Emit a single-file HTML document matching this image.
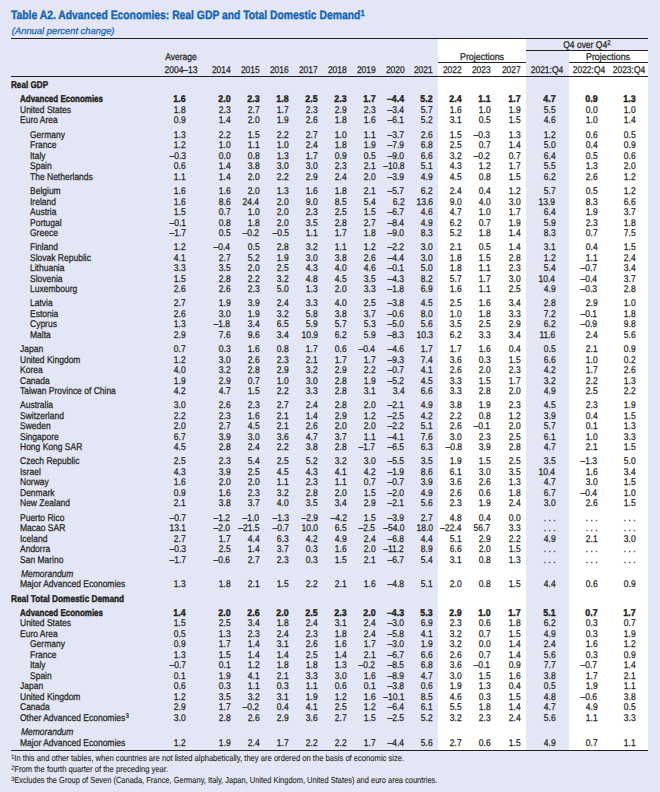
<!DOCTYPE html>
<html><head><meta charset="utf-8">
<style>
html,body{margin:0;padding:0}
body{width:660px;height:792px;position:relative;overflow:hidden;font-family:"Liberation Sans",sans-serif;text-rendering:geometricPrecision}
.l,.n,.t{position:absolute;white-space:nowrap;line-height:normal;-webkit-text-stroke:0.25px currentColor}
.l{transform-origin:0 0}
.n{transform-origin:100% 0}
.b{font-weight:bold;-webkit-text-stroke:0.4px currentColor}
.i{font-style:italic}
.ln{position:absolute;height:1px}
.band{position:absolute;background:#fff}
sup{font-size:0.72em;vertical-align:0;position:relative;top:-0.38em;margin-left:0.3px}
body{background:#e3e6f4} .l,.n{color:#231f20;font-size:9.8px} .ln{background:#231f20} .blue{color:#1565b5}
</style></head><body>
<div class="band" style="left:438px;top:39px;width:88px;height:711px"></div>
<div class="band" style="left:568.6px;top:51px;width:79.4px;height:699px"></div>
<div class="t blue b" style="left:11.3px;top:8px;font-size:12px;transform:scaleX(0.862);transform-origin:0 0">Table A2. Advanced Economies: Real GDP and Total Domestic Demand<sup>1</sup></div>
<div class="t blue i" style="left:11.8px;top:25px;font-size:9.4px">(Annual percent change)</div>
<div class="ln" style="left:11px;top:38px;width:637px"></div>
<div class="ln" style="left:526px;top:50px;width:122px"></div>
<div class="ln" style="left:438px;top:62px;width:88px"></div>
<div class="ln" style="left:568.6px;top:62px;width:79.4px"></div>
<div class="ln" style="left:11px;top:76px;width:637px"></div>
<div class="ln" style="left:11px;top:750px;width:637px"></div>
<div class="t" style="left:81.00px;top:52px;width:200px;text-align:center;font-size:9.8px;color:#231f20;transform:scaleX(0.867);transform-origin:50% 0">Average</div>
<div class="t" style="left:81.00px;top:65px;width:200px;text-align:center;font-size:9.8px;color:#231f20;transform:scaleX(0.867);transform-origin:50% 0">2004–13</div>
<div class="t" style="right:429.10px;top:65px;font-size:9.8px;color:#231f20;transform:scaleX(0.867);transform-origin:100% 0">2014</div>
<div class="t" style="right:400.40px;top:65px;font-size:9.8px;color:#231f20;transform:scaleX(0.867);transform-origin:100% 0">2015</div>
<div class="t" style="right:371.50px;top:65px;font-size:9.8px;color:#231f20;transform:scaleX(0.867);transform-origin:100% 0">2016</div>
<div class="t" style="right:342.00px;top:65px;font-size:9.8px;color:#231f20;transform:scaleX(0.867);transform-origin:100% 0">2017</div>
<div class="t" style="right:313.40px;top:65px;font-size:9.8px;color:#231f20;transform:scaleX(0.867);transform-origin:100% 0">2018</div>
<div class="t" style="right:284.70px;top:65px;font-size:9.8px;color:#231f20;transform:scaleX(0.867);transform-origin:100% 0">2019</div>
<div class="t" style="right:255.60px;top:65px;font-size:9.8px;color:#231f20;transform:scaleX(0.867);transform-origin:100% 0">2020</div>
<div class="t" style="right:227.70px;top:65px;font-size:9.8px;color:#231f20;transform:scaleX(0.867);transform-origin:100% 0">2021</div>
<div class="t" style="right:198.60px;top:65px;font-size:9.8px;color:#231f20;transform:scaleX(0.867);transform-origin:100% 0">2022</div>
<div class="t" style="right:169.10px;top:65px;font-size:9.8px;color:#231f20;transform:scaleX(0.867);transform-origin:100% 0">2023</div>
<div class="t" style="right:139.60px;top:65px;font-size:9.8px;color:#231f20;transform:scaleX(0.867);transform-origin:100% 0">2027</div>
<div class="t" style="left:447.10px;top:65px;width:200px;text-align:center;font-size:9.8px;color:#231f20;transform:scaleX(0.867);transform-origin:50% 0">2021:Q4</div>
<div class="t" style="left:489.35px;top:65px;width:200px;text-align:center;font-size:9.8px;color:#231f20;transform:scaleX(0.867);transform-origin:50% 0">2022:Q4</div>
<div class="t" style="left:529.05px;top:65px;width:200px;text-align:center;font-size:9.8px;color:#231f20;transform:scaleX(0.867);transform-origin:50% 0">2023:Q4</div>
<div class="t" style="left:381.80px;top:52px;width:200px;text-align:center;font-size:9.8px;color:#231f20;transform:scaleX(0.910);transform-origin:50% 0">Projections</div>
<div class="t" style="left:508.30px;top:52px;width:200px;text-align:center;font-size:9.8px;color:#231f20;transform:scaleX(0.910);transform-origin:50% 0">Projections</div>
<div class="t" style="left:486.90px;top:40px;width:200px;text-align:center;font-size:9.8px;color:#231f20;transform:scaleX(0.867);transform-origin:50% 0">Q4 over Q4<sup>2</sup></div>
<div class="l b" style="left:11.0px;top:80px;transform:scaleX(0.830)">Real GDP</div>
<div class="l b" style="left:20.3px;top:94px;transform:scaleX(0.815)">Advanced Economies</div>
<div class="n b" style="right:474.00px;top:94px;transform:scaleX(0.900)">1.6</div>
<div class="n b" style="right:429.60px;top:94px;transform:scaleX(0.900)">2.0</div>
<div class="n b" style="right:400.70px;top:94px;transform:scaleX(0.900)">2.3</div>
<div class="n b" style="right:371.40px;top:94px;transform:scaleX(0.900)">1.8</div>
<div class="n b" style="right:342.20px;top:94px;transform:scaleX(0.900)">2.5</div>
<div class="n b" style="right:313.40px;top:94px;transform:scaleX(0.900)">2.3</div>
<div class="n b" style="right:284.50px;top:94px;transform:scaleX(0.900)">1.7</div>
<div class="n b" style="right:255.80px;top:94px;transform:scaleX(0.900)">–4.4</div>
<div class="n b" style="right:227.40px;top:94px;transform:scaleX(0.900)">5.2</div>
<div class="n b" style="right:198.40px;top:94px;transform:scaleX(0.900)">2.4</div>
<div class="n b" style="right:169.60px;top:94px;transform:scaleX(0.900)">1.1</div>
<div class="n b" style="right:139.80px;top:94px;transform:scaleX(0.900)">1.7</div>
<div class="n b" style="right:104.50px;top:94px;transform:scaleX(0.900)">4.7</div>
<div class="n b" style="right:62.70px;top:94px;transform:scaleX(0.900)">0.9</div>
<div class="n b" style="right:24.40px;top:94px;transform:scaleX(0.900)">1.3</div>
<div class="l" style="left:20.0px;top:105px;transform:scaleX(0.867)">United States</div>
<div class="n" style="right:474.00px;top:105px;transform:scaleX(0.867)">1.8</div>
<div class="n" style="right:429.60px;top:105px;transform:scaleX(0.867)">2.3</div>
<div class="n" style="right:400.70px;top:105px;transform:scaleX(0.867)">2.7</div>
<div class="n" style="right:371.40px;top:105px;transform:scaleX(0.867)">1.7</div>
<div class="n" style="right:342.20px;top:105px;transform:scaleX(0.867)">2.3</div>
<div class="n" style="right:313.40px;top:105px;transform:scaleX(0.867)">2.9</div>
<div class="n" style="right:284.50px;top:105px;transform:scaleX(0.867)">2.3</div>
<div class="n" style="right:255.80px;top:105px;transform:scaleX(0.867)">–3.4</div>
<div class="n" style="right:227.40px;top:105px;transform:scaleX(0.867)">5.7</div>
<div class="n" style="right:198.40px;top:105px;transform:scaleX(0.867)">1.6</div>
<div class="n" style="right:169.60px;top:105px;transform:scaleX(0.867)">1.0</div>
<div class="n" style="right:139.80px;top:105px;transform:scaleX(0.867)">1.9</div>
<div class="n" style="right:104.50px;top:105px;transform:scaleX(0.867)">5.5</div>
<div class="n" style="right:62.70px;top:105px;transform:scaleX(0.867)">0.0</div>
<div class="n" style="right:24.40px;top:105px;transform:scaleX(0.867)">1.0</div>
<div class="l" style="left:20.0px;top:115px;transform:scaleX(0.867)">Euro Area</div>
<div class="n" style="right:474.00px;top:115px;transform:scaleX(0.867)">0.9</div>
<div class="n" style="right:429.60px;top:115px;transform:scaleX(0.867)">1.4</div>
<div class="n" style="right:400.70px;top:115px;transform:scaleX(0.867)">2.0</div>
<div class="n" style="right:371.40px;top:115px;transform:scaleX(0.867)">1.9</div>
<div class="n" style="right:342.20px;top:115px;transform:scaleX(0.867)">2.6</div>
<div class="n" style="right:313.40px;top:115px;transform:scaleX(0.867)">1.8</div>
<div class="n" style="right:284.50px;top:115px;transform:scaleX(0.867)">1.6</div>
<div class="n" style="right:255.80px;top:115px;transform:scaleX(0.867)">–6.1</div>
<div class="n" style="right:227.40px;top:115px;transform:scaleX(0.867)">5.2</div>
<div class="n" style="right:198.40px;top:115px;transform:scaleX(0.867)">3.1</div>
<div class="n" style="right:169.60px;top:115px;transform:scaleX(0.867)">0.5</div>
<div class="n" style="right:139.80px;top:115px;transform:scaleX(0.867)">1.5</div>
<div class="n" style="right:104.50px;top:115px;transform:scaleX(0.867)">4.6</div>
<div class="n" style="right:62.70px;top:115px;transform:scaleX(0.867)">1.0</div>
<div class="n" style="right:24.40px;top:115px;transform:scaleX(0.867)">1.4</div>
<div class="l" style="left:29.6px;top:130px;transform:scaleX(0.867)">Germany</div>
<div class="n" style="right:474.00px;top:130px;transform:scaleX(0.867)">1.3</div>
<div class="n" style="right:429.60px;top:130px;transform:scaleX(0.867)">2.2</div>
<div class="n" style="right:400.70px;top:130px;transform:scaleX(0.867)">1.5</div>
<div class="n" style="right:371.40px;top:130px;transform:scaleX(0.867)">2.2</div>
<div class="n" style="right:342.20px;top:130px;transform:scaleX(0.867)">2.7</div>
<div class="n" style="right:313.40px;top:130px;transform:scaleX(0.867)">1.0</div>
<div class="n" style="right:284.50px;top:130px;transform:scaleX(0.867)">1.1</div>
<div class="n" style="right:255.80px;top:130px;transform:scaleX(0.867)">–3.7</div>
<div class="n" style="right:227.40px;top:130px;transform:scaleX(0.867)">2.6</div>
<div class="n" style="right:198.40px;top:130px;transform:scaleX(0.867)">1.5</div>
<div class="n" style="right:169.60px;top:130px;transform:scaleX(0.867)">–0.3</div>
<div class="n" style="right:139.80px;top:130px;transform:scaleX(0.867)">1.3</div>
<div class="n" style="right:104.50px;top:130px;transform:scaleX(0.867)">1.2</div>
<div class="n" style="right:62.70px;top:130px;transform:scaleX(0.867)">0.6</div>
<div class="n" style="right:24.40px;top:130px;transform:scaleX(0.867)">0.5</div>
<div class="l" style="left:29.6px;top:140px;transform:scaleX(0.867)">France</div>
<div class="n" style="right:474.00px;top:140px;transform:scaleX(0.867)">1.2</div>
<div class="n" style="right:429.60px;top:140px;transform:scaleX(0.867)">1.0</div>
<div class="n" style="right:400.70px;top:140px;transform:scaleX(0.867)">1.1</div>
<div class="n" style="right:371.40px;top:140px;transform:scaleX(0.867)">1.0</div>
<div class="n" style="right:342.20px;top:140px;transform:scaleX(0.867)">2.4</div>
<div class="n" style="right:313.40px;top:140px;transform:scaleX(0.867)">1.8</div>
<div class="n" style="right:284.50px;top:140px;transform:scaleX(0.867)">1.9</div>
<div class="n" style="right:255.80px;top:140px;transform:scaleX(0.867)">–7.9</div>
<div class="n" style="right:227.40px;top:140px;transform:scaleX(0.867)">6.8</div>
<div class="n" style="right:198.40px;top:140px;transform:scaleX(0.867)">2.5</div>
<div class="n" style="right:169.60px;top:140px;transform:scaleX(0.867)">0.7</div>
<div class="n" style="right:139.80px;top:140px;transform:scaleX(0.867)">1.4</div>
<div class="n" style="right:104.50px;top:140px;transform:scaleX(0.867)">5.0</div>
<div class="n" style="right:62.70px;top:140px;transform:scaleX(0.867)">0.4</div>
<div class="n" style="right:24.40px;top:140px;transform:scaleX(0.867)">0.9</div>
<div class="l" style="left:29.6px;top:151px;transform:scaleX(0.867)">Italy</div>
<div class="n" style="right:474.00px;top:151px;transform:scaleX(0.867)">–0.3</div>
<div class="n" style="right:429.60px;top:151px;transform:scaleX(0.867)">0.0</div>
<div class="n" style="right:400.70px;top:151px;transform:scaleX(0.867)">0.8</div>
<div class="n" style="right:371.40px;top:151px;transform:scaleX(0.867)">1.3</div>
<div class="n" style="right:342.20px;top:151px;transform:scaleX(0.867)">1.7</div>
<div class="n" style="right:313.40px;top:151px;transform:scaleX(0.867)">0.9</div>
<div class="n" style="right:284.50px;top:151px;transform:scaleX(0.867)">0.5</div>
<div class="n" style="right:255.80px;top:151px;transform:scaleX(0.867)">–9.0</div>
<div class="n" style="right:227.40px;top:151px;transform:scaleX(0.867)">6.6</div>
<div class="n" style="right:198.40px;top:151px;transform:scaleX(0.867)">3.2</div>
<div class="n" style="right:169.60px;top:151px;transform:scaleX(0.867)">–0.2</div>
<div class="n" style="right:139.80px;top:151px;transform:scaleX(0.867)">0.7</div>
<div class="n" style="right:104.50px;top:151px;transform:scaleX(0.867)">6.4</div>
<div class="n" style="right:62.70px;top:151px;transform:scaleX(0.867)">0.5</div>
<div class="n" style="right:24.40px;top:151px;transform:scaleX(0.867)">0.6</div>
<div class="l" style="left:29.6px;top:161px;transform:scaleX(0.867)">Spain</div>
<div class="n" style="right:474.00px;top:161px;transform:scaleX(0.867)">0.6</div>
<div class="n" style="right:429.60px;top:161px;transform:scaleX(0.867)">1.4</div>
<div class="n" style="right:400.70px;top:161px;transform:scaleX(0.867)">3.8</div>
<div class="n" style="right:371.40px;top:161px;transform:scaleX(0.867)">3.0</div>
<div class="n" style="right:342.20px;top:161px;transform:scaleX(0.867)">3.0</div>
<div class="n" style="right:313.40px;top:161px;transform:scaleX(0.867)">2.3</div>
<div class="n" style="right:284.50px;top:161px;transform:scaleX(0.867)">2.1</div>
<div class="n" style="right:255.80px;top:161px;transform:scaleX(0.867)">–10.8</div>
<div class="n" style="right:227.40px;top:161px;transform:scaleX(0.867)">5.1</div>
<div class="n" style="right:198.40px;top:161px;transform:scaleX(0.867)">4.3</div>
<div class="n" style="right:169.60px;top:161px;transform:scaleX(0.867)">1.2</div>
<div class="n" style="right:139.80px;top:161px;transform:scaleX(0.867)">1.7</div>
<div class="n" style="right:104.50px;top:161px;transform:scaleX(0.867)">5.5</div>
<div class="n" style="right:62.70px;top:161px;transform:scaleX(0.867)">1.3</div>
<div class="n" style="right:24.40px;top:161px;transform:scaleX(0.867)">2.0</div>
<div class="l" style="left:29.6px;top:172px;transform:scaleX(0.867)">The Netherlands</div>
<div class="n" style="right:474.00px;top:172px;transform:scaleX(0.867)">1.1</div>
<div class="n" style="right:429.60px;top:172px;transform:scaleX(0.867)">1.4</div>
<div class="n" style="right:400.70px;top:172px;transform:scaleX(0.867)">2.0</div>
<div class="n" style="right:371.40px;top:172px;transform:scaleX(0.867)">2.2</div>
<div class="n" style="right:342.20px;top:172px;transform:scaleX(0.867)">2.9</div>
<div class="n" style="right:313.40px;top:172px;transform:scaleX(0.867)">2.4</div>
<div class="n" style="right:284.50px;top:172px;transform:scaleX(0.867)">2.0</div>
<div class="n" style="right:255.80px;top:172px;transform:scaleX(0.867)">–3.9</div>
<div class="n" style="right:227.40px;top:172px;transform:scaleX(0.867)">4.9</div>
<div class="n" style="right:198.40px;top:172px;transform:scaleX(0.867)">4.5</div>
<div class="n" style="right:169.60px;top:172px;transform:scaleX(0.867)">0.8</div>
<div class="n" style="right:139.80px;top:172px;transform:scaleX(0.867)">1.5</div>
<div class="n" style="right:104.50px;top:172px;transform:scaleX(0.867)">6.2</div>
<div class="n" style="right:62.70px;top:172px;transform:scaleX(0.867)">2.6</div>
<div class="n" style="right:24.40px;top:172px;transform:scaleX(0.867)">1.2</div>
<div class="l" style="left:29.6px;top:186px;transform:scaleX(0.867)">Belgium</div>
<div class="n" style="right:474.00px;top:186px;transform:scaleX(0.867)">1.6</div>
<div class="n" style="right:429.60px;top:186px;transform:scaleX(0.867)">1.6</div>
<div class="n" style="right:400.70px;top:186px;transform:scaleX(0.867)">2.0</div>
<div class="n" style="right:371.40px;top:186px;transform:scaleX(0.867)">1.3</div>
<div class="n" style="right:342.20px;top:186px;transform:scaleX(0.867)">1.6</div>
<div class="n" style="right:313.40px;top:186px;transform:scaleX(0.867)">1.8</div>
<div class="n" style="right:284.50px;top:186px;transform:scaleX(0.867)">2.1</div>
<div class="n" style="right:255.80px;top:186px;transform:scaleX(0.867)">–5.7</div>
<div class="n" style="right:227.40px;top:186px;transform:scaleX(0.867)">6.2</div>
<div class="n" style="right:198.40px;top:186px;transform:scaleX(0.867)">2.4</div>
<div class="n" style="right:169.60px;top:186px;transform:scaleX(0.867)">0.4</div>
<div class="n" style="right:139.80px;top:186px;transform:scaleX(0.867)">1.2</div>
<div class="n" style="right:104.50px;top:186px;transform:scaleX(0.867)">5.7</div>
<div class="n" style="right:62.70px;top:186px;transform:scaleX(0.867)">0.5</div>
<div class="n" style="right:24.40px;top:186px;transform:scaleX(0.867)">1.2</div>
<div class="l" style="left:29.6px;top:197px;transform:scaleX(0.867)">Ireland</div>
<div class="n" style="right:474.00px;top:197px;transform:scaleX(0.867)">1.6</div>
<div class="n" style="right:429.60px;top:197px;transform:scaleX(0.867)">8.6</div>
<div class="n" style="right:400.70px;top:197px;transform:scaleX(0.867)">24.4</div>
<div class="n" style="right:371.40px;top:197px;transform:scaleX(0.867)">2.0</div>
<div class="n" style="right:342.20px;top:197px;transform:scaleX(0.867)">9.0</div>
<div class="n" style="right:313.40px;top:197px;transform:scaleX(0.867)">8.5</div>
<div class="n" style="right:284.50px;top:197px;transform:scaleX(0.867)">5.4</div>
<div class="n" style="right:255.80px;top:197px;transform:scaleX(0.867)">6.2</div>
<div class="n" style="right:227.40px;top:197px;transform:scaleX(0.867)">13.6</div>
<div class="n" style="right:198.40px;top:197px;transform:scaleX(0.867)">9.0</div>
<div class="n" style="right:169.60px;top:197px;transform:scaleX(0.867)">4.0</div>
<div class="n" style="right:139.80px;top:197px;transform:scaleX(0.867)">3.0</div>
<div class="n" style="right:104.50px;top:197px;transform:scaleX(0.867)">13.9</div>
<div class="n" style="right:62.70px;top:197px;transform:scaleX(0.867)">8.3</div>
<div class="n" style="right:24.40px;top:197px;transform:scaleX(0.867)">6.6</div>
<div class="l" style="left:29.6px;top:207px;transform:scaleX(0.867)">Austria</div>
<div class="n" style="right:474.00px;top:207px;transform:scaleX(0.867)">1.5</div>
<div class="n" style="right:429.60px;top:207px;transform:scaleX(0.867)">0.7</div>
<div class="n" style="right:400.70px;top:207px;transform:scaleX(0.867)">1.0</div>
<div class="n" style="right:371.40px;top:207px;transform:scaleX(0.867)">2.0</div>
<div class="n" style="right:342.20px;top:207px;transform:scaleX(0.867)">2.3</div>
<div class="n" style="right:313.40px;top:207px;transform:scaleX(0.867)">2.5</div>
<div class="n" style="right:284.50px;top:207px;transform:scaleX(0.867)">1.5</div>
<div class="n" style="right:255.80px;top:207px;transform:scaleX(0.867)">–6.7</div>
<div class="n" style="right:227.40px;top:207px;transform:scaleX(0.867)">4.6</div>
<div class="n" style="right:198.40px;top:207px;transform:scaleX(0.867)">4.7</div>
<div class="n" style="right:169.60px;top:207px;transform:scaleX(0.867)">1.0</div>
<div class="n" style="right:139.80px;top:207px;transform:scaleX(0.867)">1.7</div>
<div class="n" style="right:104.50px;top:207px;transform:scaleX(0.867)">6.4</div>
<div class="n" style="right:62.70px;top:207px;transform:scaleX(0.867)">1.9</div>
<div class="n" style="right:24.40px;top:207px;transform:scaleX(0.867)">3.7</div>
<div class="l" style="left:29.6px;top:218px;transform:scaleX(0.867)">Portugal</div>
<div class="n" style="right:474.00px;top:218px;transform:scaleX(0.867)">–0.1</div>
<div class="n" style="right:429.60px;top:218px;transform:scaleX(0.867)">0.8</div>
<div class="n" style="right:400.70px;top:218px;transform:scaleX(0.867)">1.8</div>
<div class="n" style="right:371.40px;top:218px;transform:scaleX(0.867)">2.0</div>
<div class="n" style="right:342.20px;top:218px;transform:scaleX(0.867)">3.5</div>
<div class="n" style="right:313.40px;top:218px;transform:scaleX(0.867)">2.8</div>
<div class="n" style="right:284.50px;top:218px;transform:scaleX(0.867)">2.7</div>
<div class="n" style="right:255.80px;top:218px;transform:scaleX(0.867)">–8.4</div>
<div class="n" style="right:227.40px;top:218px;transform:scaleX(0.867)">4.9</div>
<div class="n" style="right:198.40px;top:218px;transform:scaleX(0.867)">6.2</div>
<div class="n" style="right:169.60px;top:218px;transform:scaleX(0.867)">0.7</div>
<div class="n" style="right:139.80px;top:218px;transform:scaleX(0.867)">1.9</div>
<div class="n" style="right:104.50px;top:218px;transform:scaleX(0.867)">5.9</div>
<div class="n" style="right:62.70px;top:218px;transform:scaleX(0.867)">2.3</div>
<div class="n" style="right:24.40px;top:218px;transform:scaleX(0.867)">1.8</div>
<div class="l" style="left:29.6px;top:228px;transform:scaleX(0.867)">Greece</div>
<div class="n" style="right:474.00px;top:228px;transform:scaleX(0.867)">–1.7</div>
<div class="n" style="right:429.60px;top:228px;transform:scaleX(0.867)">0.5</div>
<div class="n" style="right:400.70px;top:228px;transform:scaleX(0.867)">–0.2</div>
<div class="n" style="right:371.40px;top:228px;transform:scaleX(0.867)">–0.5</div>
<div class="n" style="right:342.20px;top:228px;transform:scaleX(0.867)">1.1</div>
<div class="n" style="right:313.40px;top:228px;transform:scaleX(0.867)">1.7</div>
<div class="n" style="right:284.50px;top:228px;transform:scaleX(0.867)">1.8</div>
<div class="n" style="right:255.80px;top:228px;transform:scaleX(0.867)">–9.0</div>
<div class="n" style="right:227.40px;top:228px;transform:scaleX(0.867)">8.3</div>
<div class="n" style="right:198.40px;top:228px;transform:scaleX(0.867)">5.2</div>
<div class="n" style="right:169.60px;top:228px;transform:scaleX(0.867)">1.8</div>
<div class="n" style="right:139.80px;top:228px;transform:scaleX(0.867)">1.4</div>
<div class="n" style="right:104.50px;top:228px;transform:scaleX(0.867)">8.3</div>
<div class="n" style="right:62.70px;top:228px;transform:scaleX(0.867)">0.7</div>
<div class="n" style="right:24.40px;top:228px;transform:scaleX(0.867)">7.5</div>
<div class="l" style="left:29.6px;top:242px;transform:scaleX(0.867)">Finland</div>
<div class="n" style="right:474.00px;top:242px;transform:scaleX(0.867)">1.2</div>
<div class="n" style="right:429.60px;top:242px;transform:scaleX(0.867)">–0.4</div>
<div class="n" style="right:400.70px;top:242px;transform:scaleX(0.867)">0.5</div>
<div class="n" style="right:371.40px;top:242px;transform:scaleX(0.867)">2.8</div>
<div class="n" style="right:342.20px;top:242px;transform:scaleX(0.867)">3.2</div>
<div class="n" style="right:313.40px;top:242px;transform:scaleX(0.867)">1.1</div>
<div class="n" style="right:284.50px;top:242px;transform:scaleX(0.867)">1.2</div>
<div class="n" style="right:255.80px;top:242px;transform:scaleX(0.867)">–2.2</div>
<div class="n" style="right:227.40px;top:242px;transform:scaleX(0.867)">3.0</div>
<div class="n" style="right:198.40px;top:242px;transform:scaleX(0.867)">2.1</div>
<div class="n" style="right:169.60px;top:242px;transform:scaleX(0.867)">0.5</div>
<div class="n" style="right:139.80px;top:242px;transform:scaleX(0.867)">1.4</div>
<div class="n" style="right:104.50px;top:242px;transform:scaleX(0.867)">3.1</div>
<div class="n" style="right:62.70px;top:242px;transform:scaleX(0.867)">0.4</div>
<div class="n" style="right:24.40px;top:242px;transform:scaleX(0.867)">1.5</div>
<div class="l" style="left:29.6px;top:253px;transform:scaleX(0.867)">Slovak Republic</div>
<div class="n" style="right:474.00px;top:253px;transform:scaleX(0.867)">4.1</div>
<div class="n" style="right:429.60px;top:253px;transform:scaleX(0.867)">2.7</div>
<div class="n" style="right:400.70px;top:253px;transform:scaleX(0.867)">5.2</div>
<div class="n" style="right:371.40px;top:253px;transform:scaleX(0.867)">1.9</div>
<div class="n" style="right:342.20px;top:253px;transform:scaleX(0.867)">3.0</div>
<div class="n" style="right:313.40px;top:253px;transform:scaleX(0.867)">3.8</div>
<div class="n" style="right:284.50px;top:253px;transform:scaleX(0.867)">2.6</div>
<div class="n" style="right:255.80px;top:253px;transform:scaleX(0.867)">–4.4</div>
<div class="n" style="right:227.40px;top:253px;transform:scaleX(0.867)">3.0</div>
<div class="n" style="right:198.40px;top:253px;transform:scaleX(0.867)">1.8</div>
<div class="n" style="right:169.60px;top:253px;transform:scaleX(0.867)">1.5</div>
<div class="n" style="right:139.80px;top:253px;transform:scaleX(0.867)">2.8</div>
<div class="n" style="right:104.50px;top:253px;transform:scaleX(0.867)">1.2</div>
<div class="n" style="right:62.70px;top:253px;transform:scaleX(0.867)">1.1</div>
<div class="n" style="right:24.40px;top:253px;transform:scaleX(0.867)">2.4</div>
<div class="l" style="left:29.6px;top:263px;transform:scaleX(0.867)">Lithuania</div>
<div class="n" style="right:474.00px;top:263px;transform:scaleX(0.867)">3.3</div>
<div class="n" style="right:429.60px;top:263px;transform:scaleX(0.867)">3.5</div>
<div class="n" style="right:400.70px;top:263px;transform:scaleX(0.867)">2.0</div>
<div class="n" style="right:371.40px;top:263px;transform:scaleX(0.867)">2.5</div>
<div class="n" style="right:342.20px;top:263px;transform:scaleX(0.867)">4.3</div>
<div class="n" style="right:313.40px;top:263px;transform:scaleX(0.867)">4.0</div>
<div class="n" style="right:284.50px;top:263px;transform:scaleX(0.867)">4.6</div>
<div class="n" style="right:255.80px;top:263px;transform:scaleX(0.867)">–0.1</div>
<div class="n" style="right:227.40px;top:263px;transform:scaleX(0.867)">5.0</div>
<div class="n" style="right:198.40px;top:263px;transform:scaleX(0.867)">1.8</div>
<div class="n" style="right:169.60px;top:263px;transform:scaleX(0.867)">1.1</div>
<div class="n" style="right:139.80px;top:263px;transform:scaleX(0.867)">2.3</div>
<div class="n" style="right:104.50px;top:263px;transform:scaleX(0.867)">5.4</div>
<div class="n" style="right:62.70px;top:263px;transform:scaleX(0.867)">–0.7</div>
<div class="n" style="right:24.40px;top:263px;transform:scaleX(0.867)">3.4</div>
<div class="l" style="left:29.6px;top:274px;transform:scaleX(0.867)">Slovenia</div>
<div class="n" style="right:474.00px;top:274px;transform:scaleX(0.867)">1.5</div>
<div class="n" style="right:429.60px;top:274px;transform:scaleX(0.867)">2.8</div>
<div class="n" style="right:400.70px;top:274px;transform:scaleX(0.867)">2.2</div>
<div class="n" style="right:371.40px;top:274px;transform:scaleX(0.867)">3.2</div>
<div class="n" style="right:342.20px;top:274px;transform:scaleX(0.867)">4.8</div>
<div class="n" style="right:313.40px;top:274px;transform:scaleX(0.867)">4.5</div>
<div class="n" style="right:284.50px;top:274px;transform:scaleX(0.867)">3.5</div>
<div class="n" style="right:255.80px;top:274px;transform:scaleX(0.867)">–4.3</div>
<div class="n" style="right:227.40px;top:274px;transform:scaleX(0.867)">8.2</div>
<div class="n" style="right:198.40px;top:274px;transform:scaleX(0.867)">5.7</div>
<div class="n" style="right:169.60px;top:274px;transform:scaleX(0.867)">1.7</div>
<div class="n" style="right:139.80px;top:274px;transform:scaleX(0.867)">3.0</div>
<div class="n" style="right:104.50px;top:274px;transform:scaleX(0.867)">10.4</div>
<div class="n" style="right:62.70px;top:274px;transform:scaleX(0.867)">–0.4</div>
<div class="n" style="right:24.40px;top:274px;transform:scaleX(0.867)">3.7</div>
<div class="l" style="left:29.6px;top:284px;transform:scaleX(0.867)">Luxembourg</div>
<div class="n" style="right:474.00px;top:284px;transform:scaleX(0.867)">2.6</div>
<div class="n" style="right:429.60px;top:284px;transform:scaleX(0.867)">2.6</div>
<div class="n" style="right:400.70px;top:284px;transform:scaleX(0.867)">2.3</div>
<div class="n" style="right:371.40px;top:284px;transform:scaleX(0.867)">5.0</div>
<div class="n" style="right:342.20px;top:284px;transform:scaleX(0.867)">1.3</div>
<div class="n" style="right:313.40px;top:284px;transform:scaleX(0.867)">2.0</div>
<div class="n" style="right:284.50px;top:284px;transform:scaleX(0.867)">3.3</div>
<div class="n" style="right:255.80px;top:284px;transform:scaleX(0.867)">–1.8</div>
<div class="n" style="right:227.40px;top:284px;transform:scaleX(0.867)">6.9</div>
<div class="n" style="right:198.40px;top:284px;transform:scaleX(0.867)">1.6</div>
<div class="n" style="right:169.60px;top:284px;transform:scaleX(0.867)">1.1</div>
<div class="n" style="right:139.80px;top:284px;transform:scaleX(0.867)">2.5</div>
<div class="n" style="right:104.50px;top:284px;transform:scaleX(0.867)">4.9</div>
<div class="n" style="right:62.70px;top:284px;transform:scaleX(0.867)">–0.3</div>
<div class="n" style="right:24.40px;top:284px;transform:scaleX(0.867)">2.8</div>
<div class="l" style="left:29.6px;top:298px;transform:scaleX(0.867)">Latvia</div>
<div class="n" style="right:474.00px;top:298px;transform:scaleX(0.867)">2.7</div>
<div class="n" style="right:429.60px;top:298px;transform:scaleX(0.867)">1.9</div>
<div class="n" style="right:400.70px;top:298px;transform:scaleX(0.867)">3.9</div>
<div class="n" style="right:371.40px;top:298px;transform:scaleX(0.867)">2.4</div>
<div class="n" style="right:342.20px;top:298px;transform:scaleX(0.867)">3.3</div>
<div class="n" style="right:313.40px;top:298px;transform:scaleX(0.867)">4.0</div>
<div class="n" style="right:284.50px;top:298px;transform:scaleX(0.867)">2.5</div>
<div class="n" style="right:255.80px;top:298px;transform:scaleX(0.867)">–3.8</div>
<div class="n" style="right:227.40px;top:298px;transform:scaleX(0.867)">4.5</div>
<div class="n" style="right:198.40px;top:298px;transform:scaleX(0.867)">2.5</div>
<div class="n" style="right:169.60px;top:298px;transform:scaleX(0.867)">1.6</div>
<div class="n" style="right:139.80px;top:298px;transform:scaleX(0.867)">3.4</div>
<div class="n" style="right:104.50px;top:298px;transform:scaleX(0.867)">2.8</div>
<div class="n" style="right:62.70px;top:298px;transform:scaleX(0.867)">2.9</div>
<div class="n" style="right:24.40px;top:298px;transform:scaleX(0.867)">1.0</div>
<div class="l" style="left:29.6px;top:309px;transform:scaleX(0.867)">Estonia</div>
<div class="n" style="right:474.00px;top:309px;transform:scaleX(0.867)">2.6</div>
<div class="n" style="right:429.60px;top:309px;transform:scaleX(0.867)">3.0</div>
<div class="n" style="right:400.70px;top:309px;transform:scaleX(0.867)">1.9</div>
<div class="n" style="right:371.40px;top:309px;transform:scaleX(0.867)">3.2</div>
<div class="n" style="right:342.20px;top:309px;transform:scaleX(0.867)">5.8</div>
<div class="n" style="right:313.40px;top:309px;transform:scaleX(0.867)">3.8</div>
<div class="n" style="right:284.50px;top:309px;transform:scaleX(0.867)">3.7</div>
<div class="n" style="right:255.80px;top:309px;transform:scaleX(0.867)">–0.6</div>
<div class="n" style="right:227.40px;top:309px;transform:scaleX(0.867)">8.0</div>
<div class="n" style="right:198.40px;top:309px;transform:scaleX(0.867)">1.0</div>
<div class="n" style="right:169.60px;top:309px;transform:scaleX(0.867)">1.8</div>
<div class="n" style="right:139.80px;top:309px;transform:scaleX(0.867)">3.3</div>
<div class="n" style="right:104.50px;top:309px;transform:scaleX(0.867)">7.2</div>
<div class="n" style="right:62.70px;top:309px;transform:scaleX(0.867)">–0.1</div>
<div class="n" style="right:24.40px;top:309px;transform:scaleX(0.867)">1.8</div>
<div class="l" style="left:29.6px;top:319px;transform:scaleX(0.867)">Cyprus</div>
<div class="n" style="right:474.00px;top:319px;transform:scaleX(0.867)">1.3</div>
<div class="n" style="right:429.60px;top:319px;transform:scaleX(0.867)">–1.8</div>
<div class="n" style="right:400.70px;top:319px;transform:scaleX(0.867)">3.4</div>
<div class="n" style="right:371.40px;top:319px;transform:scaleX(0.867)">6.5</div>
<div class="n" style="right:342.20px;top:319px;transform:scaleX(0.867)">5.9</div>
<div class="n" style="right:313.40px;top:319px;transform:scaleX(0.867)">5.7</div>
<div class="n" style="right:284.50px;top:319px;transform:scaleX(0.867)">5.3</div>
<div class="n" style="right:255.80px;top:319px;transform:scaleX(0.867)">–5.0</div>
<div class="n" style="right:227.40px;top:319px;transform:scaleX(0.867)">5.6</div>
<div class="n" style="right:198.40px;top:319px;transform:scaleX(0.867)">3.5</div>
<div class="n" style="right:169.60px;top:319px;transform:scaleX(0.867)">2.5</div>
<div class="n" style="right:139.80px;top:319px;transform:scaleX(0.867)">2.9</div>
<div class="n" style="right:104.50px;top:319px;transform:scaleX(0.867)">6.2</div>
<div class="n" style="right:62.70px;top:319px;transform:scaleX(0.867)">–0.9</div>
<div class="n" style="right:24.40px;top:319px;transform:scaleX(0.867)">9.8</div>
<div class="l" style="left:29.6px;top:330px;transform:scaleX(0.867)">Malta</div>
<div class="n" style="right:474.00px;top:330px;transform:scaleX(0.867)">2.9</div>
<div class="n" style="right:429.60px;top:330px;transform:scaleX(0.867)">7.6</div>
<div class="n" style="right:400.70px;top:330px;transform:scaleX(0.867)">9.6</div>
<div class="n" style="right:371.40px;top:330px;transform:scaleX(0.867)">3.4</div>
<div class="n" style="right:342.20px;top:330px;transform:scaleX(0.867)">10.9</div>
<div class="n" style="right:313.40px;top:330px;transform:scaleX(0.867)">6.2</div>
<div class="n" style="right:284.50px;top:330px;transform:scaleX(0.867)">5.9</div>
<div class="n" style="right:255.80px;top:330px;transform:scaleX(0.867)">–8.3</div>
<div class="n" style="right:227.40px;top:330px;transform:scaleX(0.867)">10.3</div>
<div class="n" style="right:198.40px;top:330px;transform:scaleX(0.867)">6.2</div>
<div class="n" style="right:169.60px;top:330px;transform:scaleX(0.867)">3.3</div>
<div class="n" style="right:139.80px;top:330px;transform:scaleX(0.867)">3.4</div>
<div class="n" style="right:104.50px;top:330px;transform:scaleX(0.867)">11.6</div>
<div class="n" style="right:62.70px;top:330px;transform:scaleX(0.867)">2.4</div>
<div class="n" style="right:24.40px;top:330px;transform:scaleX(0.867)">5.6</div>
<div class="l" style="left:20.0px;top:344px;transform:scaleX(0.867)">Japan</div>
<div class="n" style="right:474.00px;top:344px;transform:scaleX(0.867)">0.7</div>
<div class="n" style="right:429.60px;top:344px;transform:scaleX(0.867)">0.3</div>
<div class="n" style="right:400.70px;top:344px;transform:scaleX(0.867)">1.6</div>
<div class="n" style="right:371.40px;top:344px;transform:scaleX(0.867)">0.8</div>
<div class="n" style="right:342.20px;top:344px;transform:scaleX(0.867)">1.7</div>
<div class="n" style="right:313.40px;top:344px;transform:scaleX(0.867)">0.6</div>
<div class="n" style="right:284.50px;top:344px;transform:scaleX(0.867)">–0.4</div>
<div class="n" style="right:255.80px;top:344px;transform:scaleX(0.867)">–4.6</div>
<div class="n" style="right:227.40px;top:344px;transform:scaleX(0.867)">1.7</div>
<div class="n" style="right:198.40px;top:344px;transform:scaleX(0.867)">1.7</div>
<div class="n" style="right:169.60px;top:344px;transform:scaleX(0.867)">1.6</div>
<div class="n" style="right:139.80px;top:344px;transform:scaleX(0.867)">0.4</div>
<div class="n" style="right:104.50px;top:344px;transform:scaleX(0.867)">0.5</div>
<div class="n" style="right:62.70px;top:344px;transform:scaleX(0.867)">2.1</div>
<div class="n" style="right:24.40px;top:344px;transform:scaleX(0.867)">0.9</div>
<div class="l" style="left:20.0px;top:355px;transform:scaleX(0.867)">United Kingdom</div>
<div class="n" style="right:474.00px;top:355px;transform:scaleX(0.867)">1.2</div>
<div class="n" style="right:429.60px;top:355px;transform:scaleX(0.867)">3.0</div>
<div class="n" style="right:400.70px;top:355px;transform:scaleX(0.867)">2.6</div>
<div class="n" style="right:371.40px;top:355px;transform:scaleX(0.867)">2.3</div>
<div class="n" style="right:342.20px;top:355px;transform:scaleX(0.867)">2.1</div>
<div class="n" style="right:313.40px;top:355px;transform:scaleX(0.867)">1.7</div>
<div class="n" style="right:284.50px;top:355px;transform:scaleX(0.867)">1.7</div>
<div class="n" style="right:255.80px;top:355px;transform:scaleX(0.867)">–9.3</div>
<div class="n" style="right:227.40px;top:355px;transform:scaleX(0.867)">7.4</div>
<div class="n" style="right:198.40px;top:355px;transform:scaleX(0.867)">3.6</div>
<div class="n" style="right:169.60px;top:355px;transform:scaleX(0.867)">0.3</div>
<div class="n" style="right:139.80px;top:355px;transform:scaleX(0.867)">1.5</div>
<div class="n" style="right:104.50px;top:355px;transform:scaleX(0.867)">6.6</div>
<div class="n" style="right:62.70px;top:355px;transform:scaleX(0.867)">1.0</div>
<div class="n" style="right:24.40px;top:355px;transform:scaleX(0.867)">0.2</div>
<div class="l" style="left:20.0px;top:365px;transform:scaleX(0.867)">Korea</div>
<div class="n" style="right:474.00px;top:365px;transform:scaleX(0.867)">4.0</div>
<div class="n" style="right:429.60px;top:365px;transform:scaleX(0.867)">3.2</div>
<div class="n" style="right:400.70px;top:365px;transform:scaleX(0.867)">2.8</div>
<div class="n" style="right:371.40px;top:365px;transform:scaleX(0.867)">2.9</div>
<div class="n" style="right:342.20px;top:365px;transform:scaleX(0.867)">3.2</div>
<div class="n" style="right:313.40px;top:365px;transform:scaleX(0.867)">2.9</div>
<div class="n" style="right:284.50px;top:365px;transform:scaleX(0.867)">2.2</div>
<div class="n" style="right:255.80px;top:365px;transform:scaleX(0.867)">–0.7</div>
<div class="n" style="right:227.40px;top:365px;transform:scaleX(0.867)">4.1</div>
<div class="n" style="right:198.40px;top:365px;transform:scaleX(0.867)">2.6</div>
<div class="n" style="right:169.60px;top:365px;transform:scaleX(0.867)">2.0</div>
<div class="n" style="right:139.80px;top:365px;transform:scaleX(0.867)">2.3</div>
<div class="n" style="right:104.50px;top:365px;transform:scaleX(0.867)">4.2</div>
<div class="n" style="right:62.70px;top:365px;transform:scaleX(0.867)">1.7</div>
<div class="n" style="right:24.40px;top:365px;transform:scaleX(0.867)">2.6</div>
<div class="l" style="left:20.0px;top:376px;transform:scaleX(0.867)">Canada</div>
<div class="n" style="right:474.00px;top:376px;transform:scaleX(0.867)">1.9</div>
<div class="n" style="right:429.60px;top:376px;transform:scaleX(0.867)">2.9</div>
<div class="n" style="right:400.70px;top:376px;transform:scaleX(0.867)">0.7</div>
<div class="n" style="right:371.40px;top:376px;transform:scaleX(0.867)">1.0</div>
<div class="n" style="right:342.20px;top:376px;transform:scaleX(0.867)">3.0</div>
<div class="n" style="right:313.40px;top:376px;transform:scaleX(0.867)">2.8</div>
<div class="n" style="right:284.50px;top:376px;transform:scaleX(0.867)">1.9</div>
<div class="n" style="right:255.80px;top:376px;transform:scaleX(0.867)">–5.2</div>
<div class="n" style="right:227.40px;top:376px;transform:scaleX(0.867)">4.5</div>
<div class="n" style="right:198.40px;top:376px;transform:scaleX(0.867)">3.3</div>
<div class="n" style="right:169.60px;top:376px;transform:scaleX(0.867)">1.5</div>
<div class="n" style="right:139.80px;top:376px;transform:scaleX(0.867)">1.7</div>
<div class="n" style="right:104.50px;top:376px;transform:scaleX(0.867)">3.2</div>
<div class="n" style="right:62.70px;top:376px;transform:scaleX(0.867)">2.2</div>
<div class="n" style="right:24.40px;top:376px;transform:scaleX(0.867)">1.3</div>
<div class="l" style="left:20.0px;top:386px;transform:scaleX(0.867)">Taiwan Province of China</div>
<div class="n" style="right:474.00px;top:386px;transform:scaleX(0.867)">4.2</div>
<div class="n" style="right:429.60px;top:386px;transform:scaleX(0.867)">4.7</div>
<div class="n" style="right:400.70px;top:386px;transform:scaleX(0.867)">1.5</div>
<div class="n" style="right:371.40px;top:386px;transform:scaleX(0.867)">2.2</div>
<div class="n" style="right:342.20px;top:386px;transform:scaleX(0.867)">3.3</div>
<div class="n" style="right:313.40px;top:386px;transform:scaleX(0.867)">2.8</div>
<div class="n" style="right:284.50px;top:386px;transform:scaleX(0.867)">3.1</div>
<div class="n" style="right:255.80px;top:386px;transform:scaleX(0.867)">3.4</div>
<div class="n" style="right:227.40px;top:386px;transform:scaleX(0.867)">6.6</div>
<div class="n" style="right:198.40px;top:386px;transform:scaleX(0.867)">3.3</div>
<div class="n" style="right:169.60px;top:386px;transform:scaleX(0.867)">2.8</div>
<div class="n" style="right:139.80px;top:386px;transform:scaleX(0.867)">2.0</div>
<div class="n" style="right:104.50px;top:386px;transform:scaleX(0.867)">4.9</div>
<div class="n" style="right:62.70px;top:386px;transform:scaleX(0.867)">2.5</div>
<div class="n" style="right:24.40px;top:386px;transform:scaleX(0.867)">2.2</div>
<div class="l" style="left:20.0px;top:400px;transform:scaleX(0.867)">Australia</div>
<div class="n" style="right:474.00px;top:400px;transform:scaleX(0.867)">3.0</div>
<div class="n" style="right:429.60px;top:400px;transform:scaleX(0.867)">2.6</div>
<div class="n" style="right:400.70px;top:400px;transform:scaleX(0.867)">2.3</div>
<div class="n" style="right:371.40px;top:400px;transform:scaleX(0.867)">2.7</div>
<div class="n" style="right:342.20px;top:400px;transform:scaleX(0.867)">2.4</div>
<div class="n" style="right:313.40px;top:400px;transform:scaleX(0.867)">2.8</div>
<div class="n" style="right:284.50px;top:400px;transform:scaleX(0.867)">2.0</div>
<div class="n" style="right:255.80px;top:400px;transform:scaleX(0.867)">–2.1</div>
<div class="n" style="right:227.40px;top:400px;transform:scaleX(0.867)">4.9</div>
<div class="n" style="right:198.40px;top:400px;transform:scaleX(0.867)">3.8</div>
<div class="n" style="right:169.60px;top:400px;transform:scaleX(0.867)">1.9</div>
<div class="n" style="right:139.80px;top:400px;transform:scaleX(0.867)">2.3</div>
<div class="n" style="right:104.50px;top:400px;transform:scaleX(0.867)">4.5</div>
<div class="n" style="right:62.70px;top:400px;transform:scaleX(0.867)">2.3</div>
<div class="n" style="right:24.40px;top:400px;transform:scaleX(0.867)">1.9</div>
<div class="l" style="left:20.0px;top:411px;transform:scaleX(0.867)">Switzerland</div>
<div class="n" style="right:474.00px;top:411px;transform:scaleX(0.867)">2.2</div>
<div class="n" style="right:429.60px;top:411px;transform:scaleX(0.867)">2.3</div>
<div class="n" style="right:400.70px;top:411px;transform:scaleX(0.867)">1.6</div>
<div class="n" style="right:371.40px;top:411px;transform:scaleX(0.867)">2.1</div>
<div class="n" style="right:342.20px;top:411px;transform:scaleX(0.867)">1.4</div>
<div class="n" style="right:313.40px;top:411px;transform:scaleX(0.867)">2.9</div>
<div class="n" style="right:284.50px;top:411px;transform:scaleX(0.867)">1.2</div>
<div class="n" style="right:255.80px;top:411px;transform:scaleX(0.867)">–2.5</div>
<div class="n" style="right:227.40px;top:411px;transform:scaleX(0.867)">4.2</div>
<div class="n" style="right:198.40px;top:411px;transform:scaleX(0.867)">2.2</div>
<div class="n" style="right:169.60px;top:411px;transform:scaleX(0.867)">0.8</div>
<div class="n" style="right:139.80px;top:411px;transform:scaleX(0.867)">1.2</div>
<div class="n" style="right:104.50px;top:411px;transform:scaleX(0.867)">3.9</div>
<div class="n" style="right:62.70px;top:411px;transform:scaleX(0.867)">0.4</div>
<div class="n" style="right:24.40px;top:411px;transform:scaleX(0.867)">1.5</div>
<div class="l" style="left:20.0px;top:421px;transform:scaleX(0.867)">Sweden</div>
<div class="n" style="right:474.00px;top:421px;transform:scaleX(0.867)">2.0</div>
<div class="n" style="right:429.60px;top:421px;transform:scaleX(0.867)">2.7</div>
<div class="n" style="right:400.70px;top:421px;transform:scaleX(0.867)">4.5</div>
<div class="n" style="right:371.40px;top:421px;transform:scaleX(0.867)">2.1</div>
<div class="n" style="right:342.20px;top:421px;transform:scaleX(0.867)">2.6</div>
<div class="n" style="right:313.40px;top:421px;transform:scaleX(0.867)">2.0</div>
<div class="n" style="right:284.50px;top:421px;transform:scaleX(0.867)">2.0</div>
<div class="n" style="right:255.80px;top:421px;transform:scaleX(0.867)">–2.2</div>
<div class="n" style="right:227.40px;top:421px;transform:scaleX(0.867)">5.1</div>
<div class="n" style="right:198.40px;top:421px;transform:scaleX(0.867)">2.6</div>
<div class="n" style="right:169.60px;top:421px;transform:scaleX(0.867)">–0.1</div>
<div class="n" style="right:139.80px;top:421px;transform:scaleX(0.867)">2.0</div>
<div class="n" style="right:104.50px;top:421px;transform:scaleX(0.867)">5.7</div>
<div class="n" style="right:62.70px;top:421px;transform:scaleX(0.867)">0.1</div>
<div class="n" style="right:24.40px;top:421px;transform:scaleX(0.867)">1.3</div>
<div class="l" style="left:20.0px;top:432px;transform:scaleX(0.867)">Singapore</div>
<div class="n" style="right:474.00px;top:432px;transform:scaleX(0.867)">6.7</div>
<div class="n" style="right:429.60px;top:432px;transform:scaleX(0.867)">3.9</div>
<div class="n" style="right:400.70px;top:432px;transform:scaleX(0.867)">3.0</div>
<div class="n" style="right:371.40px;top:432px;transform:scaleX(0.867)">3.6</div>
<div class="n" style="right:342.20px;top:432px;transform:scaleX(0.867)">4.7</div>
<div class="n" style="right:313.40px;top:432px;transform:scaleX(0.867)">3.7</div>
<div class="n" style="right:284.50px;top:432px;transform:scaleX(0.867)">1.1</div>
<div class="n" style="right:255.80px;top:432px;transform:scaleX(0.867)">–4.1</div>
<div class="n" style="right:227.40px;top:432px;transform:scaleX(0.867)">7.6</div>
<div class="n" style="right:198.40px;top:432px;transform:scaleX(0.867)">3.0</div>
<div class="n" style="right:169.60px;top:432px;transform:scaleX(0.867)">2.3</div>
<div class="n" style="right:139.80px;top:432px;transform:scaleX(0.867)">2.5</div>
<div class="n" style="right:104.50px;top:432px;transform:scaleX(0.867)">6.1</div>
<div class="n" style="right:62.70px;top:432px;transform:scaleX(0.867)">1.0</div>
<div class="n" style="right:24.40px;top:432px;transform:scaleX(0.867)">3.3</div>
<div class="l" style="left:20.0px;top:442px;transform:scaleX(0.867)">Hong Kong SAR</div>
<div class="n" style="right:474.00px;top:442px;transform:scaleX(0.867)">4.5</div>
<div class="n" style="right:429.60px;top:442px;transform:scaleX(0.867)">2.8</div>
<div class="n" style="right:400.70px;top:442px;transform:scaleX(0.867)">2.4</div>
<div class="n" style="right:371.40px;top:442px;transform:scaleX(0.867)">2.2</div>
<div class="n" style="right:342.20px;top:442px;transform:scaleX(0.867)">3.8</div>
<div class="n" style="right:313.40px;top:442px;transform:scaleX(0.867)">2.8</div>
<div class="n" style="right:284.50px;top:442px;transform:scaleX(0.867)">–1.7</div>
<div class="n" style="right:255.80px;top:442px;transform:scaleX(0.867)">–6.5</div>
<div class="n" style="right:227.40px;top:442px;transform:scaleX(0.867)">6.3</div>
<div class="n" style="right:198.40px;top:442px;transform:scaleX(0.867)">–0.8</div>
<div class="n" style="right:169.60px;top:442px;transform:scaleX(0.867)">3.9</div>
<div class="n" style="right:139.80px;top:442px;transform:scaleX(0.867)">2.8</div>
<div class="n" style="right:104.50px;top:442px;transform:scaleX(0.867)">4.7</div>
<div class="n" style="right:62.70px;top:442px;transform:scaleX(0.867)">2.1</div>
<div class="n" style="right:24.40px;top:442px;transform:scaleX(0.867)">1.5</div>
<div class="l" style="left:20.0px;top:456px;transform:scaleX(0.867)">Czech Republic</div>
<div class="n" style="right:474.00px;top:456px;transform:scaleX(0.867)">2.5</div>
<div class="n" style="right:429.60px;top:456px;transform:scaleX(0.867)">2.3</div>
<div class="n" style="right:400.70px;top:456px;transform:scaleX(0.867)">5.4</div>
<div class="n" style="right:371.40px;top:456px;transform:scaleX(0.867)">2.5</div>
<div class="n" style="right:342.20px;top:456px;transform:scaleX(0.867)">5.2</div>
<div class="n" style="right:313.40px;top:456px;transform:scaleX(0.867)">3.2</div>
<div class="n" style="right:284.50px;top:456px;transform:scaleX(0.867)">3.0</div>
<div class="n" style="right:255.80px;top:456px;transform:scaleX(0.867)">–5.5</div>
<div class="n" style="right:227.40px;top:456px;transform:scaleX(0.867)">3.5</div>
<div class="n" style="right:198.40px;top:456px;transform:scaleX(0.867)">1.9</div>
<div class="n" style="right:169.60px;top:456px;transform:scaleX(0.867)">1.5</div>
<div class="n" style="right:139.80px;top:456px;transform:scaleX(0.867)">2.5</div>
<div class="n" style="right:104.50px;top:456px;transform:scaleX(0.867)">3.5</div>
<div class="n" style="right:62.70px;top:456px;transform:scaleX(0.867)">–1.3</div>
<div class="n" style="right:24.40px;top:456px;transform:scaleX(0.867)">5.0</div>
<div class="l" style="left:20.0px;top:467px;transform:scaleX(0.867)">Israel</div>
<div class="n" style="right:474.00px;top:467px;transform:scaleX(0.867)">4.3</div>
<div class="n" style="right:429.60px;top:467px;transform:scaleX(0.867)">3.9</div>
<div class="n" style="right:400.70px;top:467px;transform:scaleX(0.867)">2.5</div>
<div class="n" style="right:371.40px;top:467px;transform:scaleX(0.867)">4.5</div>
<div class="n" style="right:342.20px;top:467px;transform:scaleX(0.867)">4.3</div>
<div class="n" style="right:313.40px;top:467px;transform:scaleX(0.867)">4.1</div>
<div class="n" style="right:284.50px;top:467px;transform:scaleX(0.867)">4.2</div>
<div class="n" style="right:255.80px;top:467px;transform:scaleX(0.867)">–1.9</div>
<div class="n" style="right:227.40px;top:467px;transform:scaleX(0.867)">8.6</div>
<div class="n" style="right:198.40px;top:467px;transform:scaleX(0.867)">6.1</div>
<div class="n" style="right:169.60px;top:467px;transform:scaleX(0.867)">3.0</div>
<div class="n" style="right:139.80px;top:467px;transform:scaleX(0.867)">3.5</div>
<div class="n" style="right:104.50px;top:467px;transform:scaleX(0.867)">10.4</div>
<div class="n" style="right:62.70px;top:467px;transform:scaleX(0.867)">1.6</div>
<div class="n" style="right:24.40px;top:467px;transform:scaleX(0.867)">3.4</div>
<div class="l" style="left:20.0px;top:477px;transform:scaleX(0.867)">Norway</div>
<div class="n" style="right:474.00px;top:477px;transform:scaleX(0.867)">1.6</div>
<div class="n" style="right:429.60px;top:477px;transform:scaleX(0.867)">2.0</div>
<div class="n" style="right:400.70px;top:477px;transform:scaleX(0.867)">2.0</div>
<div class="n" style="right:371.40px;top:477px;transform:scaleX(0.867)">1.1</div>
<div class="n" style="right:342.20px;top:477px;transform:scaleX(0.867)">2.3</div>
<div class="n" style="right:313.40px;top:477px;transform:scaleX(0.867)">1.1</div>
<div class="n" style="right:284.50px;top:477px;transform:scaleX(0.867)">0.7</div>
<div class="n" style="right:255.80px;top:477px;transform:scaleX(0.867)">–0.7</div>
<div class="n" style="right:227.40px;top:477px;transform:scaleX(0.867)">3.9</div>
<div class="n" style="right:198.40px;top:477px;transform:scaleX(0.867)">3.6</div>
<div class="n" style="right:169.60px;top:477px;transform:scaleX(0.867)">2.6</div>
<div class="n" style="right:139.80px;top:477px;transform:scaleX(0.867)">1.3</div>
<div class="n" style="right:104.50px;top:477px;transform:scaleX(0.867)">4.7</div>
<div class="n" style="right:62.70px;top:477px;transform:scaleX(0.867)">3.0</div>
<div class="n" style="right:24.40px;top:477px;transform:scaleX(0.867)">1.5</div>
<div class="l" style="left:20.0px;top:488px;transform:scaleX(0.867)">Denmark</div>
<div class="n" style="right:474.00px;top:488px;transform:scaleX(0.867)">0.9</div>
<div class="n" style="right:429.60px;top:488px;transform:scaleX(0.867)">1.6</div>
<div class="n" style="right:400.70px;top:488px;transform:scaleX(0.867)">2.3</div>
<div class="n" style="right:371.40px;top:488px;transform:scaleX(0.867)">3.2</div>
<div class="n" style="right:342.20px;top:488px;transform:scaleX(0.867)">2.8</div>
<div class="n" style="right:313.40px;top:488px;transform:scaleX(0.867)">2.0</div>
<div class="n" style="right:284.50px;top:488px;transform:scaleX(0.867)">1.5</div>
<div class="n" style="right:255.80px;top:488px;transform:scaleX(0.867)">–2.0</div>
<div class="n" style="right:227.40px;top:488px;transform:scaleX(0.867)">4.9</div>
<div class="n" style="right:198.40px;top:488px;transform:scaleX(0.867)">2.6</div>
<div class="n" style="right:169.60px;top:488px;transform:scaleX(0.867)">0.6</div>
<div class="n" style="right:139.80px;top:488px;transform:scaleX(0.867)">1.8</div>
<div class="n" style="right:104.50px;top:488px;transform:scaleX(0.867)">6.7</div>
<div class="n" style="right:62.70px;top:488px;transform:scaleX(0.867)">–0.4</div>
<div class="n" style="right:24.40px;top:488px;transform:scaleX(0.867)">1.0</div>
<div class="l" style="left:20.0px;top:498px;transform:scaleX(0.867)">New Zealand</div>
<div class="n" style="right:474.00px;top:498px;transform:scaleX(0.867)">2.1</div>
<div class="n" style="right:429.60px;top:498px;transform:scaleX(0.867)">3.8</div>
<div class="n" style="right:400.70px;top:498px;transform:scaleX(0.867)">3.7</div>
<div class="n" style="right:371.40px;top:498px;transform:scaleX(0.867)">4.0</div>
<div class="n" style="right:342.20px;top:498px;transform:scaleX(0.867)">3.5</div>
<div class="n" style="right:313.40px;top:498px;transform:scaleX(0.867)">3.4</div>
<div class="n" style="right:284.50px;top:498px;transform:scaleX(0.867)">2.9</div>
<div class="n" style="right:255.80px;top:498px;transform:scaleX(0.867)">–2.1</div>
<div class="n" style="right:227.40px;top:498px;transform:scaleX(0.867)">5.6</div>
<div class="n" style="right:198.40px;top:498px;transform:scaleX(0.867)">2.3</div>
<div class="n" style="right:169.60px;top:498px;transform:scaleX(0.867)">1.9</div>
<div class="n" style="right:139.80px;top:498px;transform:scaleX(0.867)">2.4</div>
<div class="n" style="right:104.50px;top:498px;transform:scaleX(0.867)">3.0</div>
<div class="n" style="right:62.70px;top:498px;transform:scaleX(0.867)">2.6</div>
<div class="n" style="right:24.40px;top:498px;transform:scaleX(0.867)">1.5</div>
<div class="l" style="left:20.0px;top:513px;transform:scaleX(0.867)">Puerto Rico</div>
<div class="n" style="right:474.00px;top:513px;transform:scaleX(0.867)">–0.7</div>
<div class="n" style="right:429.60px;top:513px;transform:scaleX(0.867)">–1.2</div>
<div class="n" style="right:400.70px;top:513px;transform:scaleX(0.867)">–1.0</div>
<div class="n" style="right:371.40px;top:513px;transform:scaleX(0.867)">–1.3</div>
<div class="n" style="right:342.20px;top:513px;transform:scaleX(0.867)">–2.9</div>
<div class="n" style="right:313.40px;top:513px;transform:scaleX(0.867)">–4.2</div>
<div class="n" style="right:284.50px;top:513px;transform:scaleX(0.867)">1.5</div>
<div class="n" style="right:255.80px;top:513px;transform:scaleX(0.867)">–3.9</div>
<div class="n" style="right:227.40px;top:513px;transform:scaleX(0.867)">2.7</div>
<div class="n" style="right:198.40px;top:513px;transform:scaleX(0.867)">4.8</div>
<div class="n" style="right:169.60px;top:513px;transform:scaleX(0.867)">0.4</div>
<div class="n" style="right:139.80px;top:513px;transform:scaleX(0.867)">0.0</div>
<div class="n" style="right:104.50px;top:513px;transform:scaleX(0.867)">. . .</div>
<div class="n" style="right:62.70px;top:513px;transform:scaleX(0.867)">. . .</div>
<div class="n" style="right:24.40px;top:513px;transform:scaleX(0.867)">. . .</div>
<div class="l" style="left:20.0px;top:523px;transform:scaleX(0.867)">Macao SAR</div>
<div class="n" style="right:474.00px;top:523px;transform:scaleX(0.867)">13.1</div>
<div class="n" style="right:429.60px;top:523px;transform:scaleX(0.867)">–2.0</div>
<div class="n" style="right:400.70px;top:523px;transform:scaleX(0.867)">–21.5</div>
<div class="n" style="right:371.40px;top:523px;transform:scaleX(0.867)">–0.7</div>
<div class="n" style="right:342.20px;top:523px;transform:scaleX(0.867)">10.0</div>
<div class="n" style="right:313.40px;top:523px;transform:scaleX(0.867)">6.5</div>
<div class="n" style="right:284.50px;top:523px;transform:scaleX(0.867)">–2.5</div>
<div class="n" style="right:255.80px;top:523px;transform:scaleX(0.867)">–54.0</div>
<div class="n" style="right:227.40px;top:523px;transform:scaleX(0.867)">18.0</div>
<div class="n" style="right:198.40px;top:523px;transform:scaleX(0.867)">–22.4</div>
<div class="n" style="right:169.60px;top:523px;transform:scaleX(0.867)">56.7</div>
<div class="n" style="right:139.80px;top:523px;transform:scaleX(0.867)">3.3</div>
<div class="n" style="right:104.50px;top:523px;transform:scaleX(0.867)">. . .</div>
<div class="n" style="right:62.70px;top:523px;transform:scaleX(0.867)">. . .</div>
<div class="n" style="right:24.40px;top:523px;transform:scaleX(0.867)">. . .</div>
<div class="l" style="left:20.0px;top:534px;transform:scaleX(0.867)">Iceland</div>
<div class="n" style="right:474.00px;top:534px;transform:scaleX(0.867)">2.7</div>
<div class="n" style="right:429.60px;top:534px;transform:scaleX(0.867)">1.7</div>
<div class="n" style="right:400.70px;top:534px;transform:scaleX(0.867)">4.4</div>
<div class="n" style="right:371.40px;top:534px;transform:scaleX(0.867)">6.3</div>
<div class="n" style="right:342.20px;top:534px;transform:scaleX(0.867)">4.2</div>
<div class="n" style="right:313.40px;top:534px;transform:scaleX(0.867)">4.9</div>
<div class="n" style="right:284.50px;top:534px;transform:scaleX(0.867)">2.4</div>
<div class="n" style="right:255.80px;top:534px;transform:scaleX(0.867)">–6.8</div>
<div class="n" style="right:227.40px;top:534px;transform:scaleX(0.867)">4.4</div>
<div class="n" style="right:198.40px;top:534px;transform:scaleX(0.867)">5.1</div>
<div class="n" style="right:169.60px;top:534px;transform:scaleX(0.867)">2.9</div>
<div class="n" style="right:139.80px;top:534px;transform:scaleX(0.867)">2.2</div>
<div class="n" style="right:104.50px;top:534px;transform:scaleX(0.867)">4.9</div>
<div class="n" style="right:62.70px;top:534px;transform:scaleX(0.867)">2.1</div>
<div class="n" style="right:24.40px;top:534px;transform:scaleX(0.867)">3.0</div>
<div class="l" style="left:20.0px;top:544px;transform:scaleX(0.867)">Andorra</div>
<div class="n" style="right:474.00px;top:544px;transform:scaleX(0.867)">–0.3</div>
<div class="n" style="right:429.60px;top:544px;transform:scaleX(0.867)">2.5</div>
<div class="n" style="right:400.70px;top:544px;transform:scaleX(0.867)">1.4</div>
<div class="n" style="right:371.40px;top:544px;transform:scaleX(0.867)">3.7</div>
<div class="n" style="right:342.20px;top:544px;transform:scaleX(0.867)">0.3</div>
<div class="n" style="right:313.40px;top:544px;transform:scaleX(0.867)">1.6</div>
<div class="n" style="right:284.50px;top:544px;transform:scaleX(0.867)">2.0</div>
<div class="n" style="right:255.80px;top:544px;transform:scaleX(0.867)">–11.2</div>
<div class="n" style="right:227.40px;top:544px;transform:scaleX(0.867)">8.9</div>
<div class="n" style="right:198.40px;top:544px;transform:scaleX(0.867)">6.6</div>
<div class="n" style="right:169.60px;top:544px;transform:scaleX(0.867)">2.0</div>
<div class="n" style="right:139.80px;top:544px;transform:scaleX(0.867)">1.5</div>
<div class="n" style="right:104.50px;top:544px;transform:scaleX(0.867)">. . .</div>
<div class="n" style="right:62.70px;top:544px;transform:scaleX(0.867)">. . .</div>
<div class="n" style="right:24.40px;top:544px;transform:scaleX(0.867)">. . .</div>
<div class="l" style="left:20.0px;top:555px;transform:scaleX(0.867)">San Marino</div>
<div class="n" style="right:474.00px;top:555px;transform:scaleX(0.867)">–1.7</div>
<div class="n" style="right:429.60px;top:555px;transform:scaleX(0.867)">–0.6</div>
<div class="n" style="right:400.70px;top:555px;transform:scaleX(0.867)">2.7</div>
<div class="n" style="right:371.40px;top:555px;transform:scaleX(0.867)">2.3</div>
<div class="n" style="right:342.20px;top:555px;transform:scaleX(0.867)">0.3</div>
<div class="n" style="right:313.40px;top:555px;transform:scaleX(0.867)">1.5</div>
<div class="n" style="right:284.50px;top:555px;transform:scaleX(0.867)">2.1</div>
<div class="n" style="right:255.80px;top:555px;transform:scaleX(0.867)">–6.7</div>
<div class="n" style="right:227.40px;top:555px;transform:scaleX(0.867)">5.4</div>
<div class="n" style="right:198.40px;top:555px;transform:scaleX(0.867)">3.1</div>
<div class="n" style="right:169.60px;top:555px;transform:scaleX(0.867)">0.8</div>
<div class="n" style="right:139.80px;top:555px;transform:scaleX(0.867)">1.3</div>
<div class="n" style="right:104.50px;top:555px;transform:scaleX(0.867)">. . .</div>
<div class="n" style="right:62.70px;top:555px;transform:scaleX(0.867)">. . .</div>
<div class="n" style="right:24.40px;top:555px;transform:scaleX(0.867)">. . .</div>
<div class="l i" style="left:20.5px;top:569px;transform:scaleX(0.867)">Memorandum</div>
<div class="l" style="left:20.0px;top:579px;transform:scaleX(0.867)">Major Advanced Economies</div>
<div class="n" style="right:474.00px;top:579px;transform:scaleX(0.867)">1.3</div>
<div class="n" style="right:429.60px;top:579px;transform:scaleX(0.867)">1.8</div>
<div class="n" style="right:400.70px;top:579px;transform:scaleX(0.867)">2.1</div>
<div class="n" style="right:371.40px;top:579px;transform:scaleX(0.867)">1.5</div>
<div class="n" style="right:342.20px;top:579px;transform:scaleX(0.867)">2.2</div>
<div class="n" style="right:313.40px;top:579px;transform:scaleX(0.867)">2.1</div>
<div class="n" style="right:284.50px;top:579px;transform:scaleX(0.867)">1.6</div>
<div class="n" style="right:255.80px;top:579px;transform:scaleX(0.867)">–4.8</div>
<div class="n" style="right:227.40px;top:579px;transform:scaleX(0.867)">5.1</div>
<div class="n" style="right:198.40px;top:579px;transform:scaleX(0.867)">2.0</div>
<div class="n" style="right:169.60px;top:579px;transform:scaleX(0.867)">0.8</div>
<div class="n" style="right:139.80px;top:579px;transform:scaleX(0.867)">1.5</div>
<div class="n" style="right:104.50px;top:579px;transform:scaleX(0.867)">4.4</div>
<div class="n" style="right:62.70px;top:579px;transform:scaleX(0.867)">0.6</div>
<div class="n" style="right:24.40px;top:579px;transform:scaleX(0.867)">0.9</div>
<div class="l b" style="left:11.0px;top:594px;transform:scaleX(0.842)">Real Total Domestic Demand</div>
<div class="l b" style="left:20.3px;top:608px;transform:scaleX(0.815)">Advanced Economies</div>
<div class="n b" style="right:474.00px;top:608px;transform:scaleX(0.900)">1.4</div>
<div class="n b" style="right:429.60px;top:608px;transform:scaleX(0.900)">2.0</div>
<div class="n b" style="right:400.70px;top:608px;transform:scaleX(0.900)">2.6</div>
<div class="n b" style="right:371.40px;top:608px;transform:scaleX(0.900)">2.0</div>
<div class="n b" style="right:342.20px;top:608px;transform:scaleX(0.900)">2.5</div>
<div class="n b" style="right:313.40px;top:608px;transform:scaleX(0.900)">2.3</div>
<div class="n b" style="right:284.50px;top:608px;transform:scaleX(0.900)">2.0</div>
<div class="n b" style="right:255.80px;top:608px;transform:scaleX(0.900)">–4.3</div>
<div class="n b" style="right:227.40px;top:608px;transform:scaleX(0.900)">5.3</div>
<div class="n b" style="right:198.40px;top:608px;transform:scaleX(0.900)">2.9</div>
<div class="n b" style="right:169.60px;top:608px;transform:scaleX(0.900)">1.0</div>
<div class="n b" style="right:139.80px;top:608px;transform:scaleX(0.900)">1.7</div>
<div class="n b" style="right:104.50px;top:608px;transform:scaleX(0.900)">5.1</div>
<div class="n b" style="right:62.70px;top:608px;transform:scaleX(0.900)">0.7</div>
<div class="n b" style="right:24.40px;top:608px;transform:scaleX(0.900)">1.7</div>
<div class="l" style="left:20.0px;top:618px;transform:scaleX(0.867)">United States</div>
<div class="n" style="right:474.00px;top:618px;transform:scaleX(0.867)">1.5</div>
<div class="n" style="right:429.60px;top:618px;transform:scaleX(0.867)">2.5</div>
<div class="n" style="right:400.70px;top:618px;transform:scaleX(0.867)">3.4</div>
<div class="n" style="right:371.40px;top:618px;transform:scaleX(0.867)">1.8</div>
<div class="n" style="right:342.20px;top:618px;transform:scaleX(0.867)">2.4</div>
<div class="n" style="right:313.40px;top:618px;transform:scaleX(0.867)">3.1</div>
<div class="n" style="right:284.50px;top:618px;transform:scaleX(0.867)">2.4</div>
<div class="n" style="right:255.80px;top:618px;transform:scaleX(0.867)">–3.0</div>
<div class="n" style="right:227.40px;top:618px;transform:scaleX(0.867)">6.9</div>
<div class="n" style="right:198.40px;top:618px;transform:scaleX(0.867)">2.3</div>
<div class="n" style="right:169.60px;top:618px;transform:scaleX(0.867)">0.6</div>
<div class="n" style="right:139.80px;top:618px;transform:scaleX(0.867)">1.8</div>
<div class="n" style="right:104.50px;top:618px;transform:scaleX(0.867)">6.2</div>
<div class="n" style="right:62.70px;top:618px;transform:scaleX(0.867)">0.3</div>
<div class="n" style="right:24.40px;top:618px;transform:scaleX(0.867)">0.7</div>
<div class="l" style="left:20.0px;top:629px;transform:scaleX(0.867)">Euro Area</div>
<div class="n" style="right:474.00px;top:629px;transform:scaleX(0.867)">0.5</div>
<div class="n" style="right:429.60px;top:629px;transform:scaleX(0.867)">1.3</div>
<div class="n" style="right:400.70px;top:629px;transform:scaleX(0.867)">2.3</div>
<div class="n" style="right:371.40px;top:629px;transform:scaleX(0.867)">2.4</div>
<div class="n" style="right:342.20px;top:629px;transform:scaleX(0.867)">2.3</div>
<div class="n" style="right:313.40px;top:629px;transform:scaleX(0.867)">1.8</div>
<div class="n" style="right:284.50px;top:629px;transform:scaleX(0.867)">2.4</div>
<div class="n" style="right:255.80px;top:629px;transform:scaleX(0.867)">–5.8</div>
<div class="n" style="right:227.40px;top:629px;transform:scaleX(0.867)">4.1</div>
<div class="n" style="right:198.40px;top:629px;transform:scaleX(0.867)">3.2</div>
<div class="n" style="right:169.60px;top:629px;transform:scaleX(0.867)">0.7</div>
<div class="n" style="right:139.80px;top:629px;transform:scaleX(0.867)">1.5</div>
<div class="n" style="right:104.50px;top:629px;transform:scaleX(0.867)">4.9</div>
<div class="n" style="right:62.70px;top:629px;transform:scaleX(0.867)">0.3</div>
<div class="n" style="right:24.40px;top:629px;transform:scaleX(0.867)">1.9</div>
<div class="l" style="left:29.6px;top:639px;transform:scaleX(0.867)">Germany</div>
<div class="n" style="right:474.00px;top:639px;transform:scaleX(0.867)">0.9</div>
<div class="n" style="right:429.60px;top:639px;transform:scaleX(0.867)">1.7</div>
<div class="n" style="right:400.70px;top:639px;transform:scaleX(0.867)">1.4</div>
<div class="n" style="right:371.40px;top:639px;transform:scaleX(0.867)">3.1</div>
<div class="n" style="right:342.20px;top:639px;transform:scaleX(0.867)">2.6</div>
<div class="n" style="right:313.40px;top:639px;transform:scaleX(0.867)">1.6</div>
<div class="n" style="right:284.50px;top:639px;transform:scaleX(0.867)">1.7</div>
<div class="n" style="right:255.80px;top:639px;transform:scaleX(0.867)">–3.0</div>
<div class="n" style="right:227.40px;top:639px;transform:scaleX(0.867)">1.9</div>
<div class="n" style="right:198.40px;top:639px;transform:scaleX(0.867)">3.2</div>
<div class="n" style="right:169.60px;top:639px;transform:scaleX(0.867)">0.0</div>
<div class="n" style="right:139.80px;top:639px;transform:scaleX(0.867)">1.4</div>
<div class="n" style="right:104.50px;top:639px;transform:scaleX(0.867)">2.4</div>
<div class="n" style="right:62.70px;top:639px;transform:scaleX(0.867)">1.6</div>
<div class="n" style="right:24.40px;top:639px;transform:scaleX(0.867)">1.2</div>
<div class="l" style="left:29.6px;top:650px;transform:scaleX(0.867)">France</div>
<div class="n" style="right:474.00px;top:650px;transform:scaleX(0.867)">1.3</div>
<div class="n" style="right:429.60px;top:650px;transform:scaleX(0.867)">1.5</div>
<div class="n" style="right:400.70px;top:650px;transform:scaleX(0.867)">1.4</div>
<div class="n" style="right:371.40px;top:650px;transform:scaleX(0.867)">1.4</div>
<div class="n" style="right:342.20px;top:650px;transform:scaleX(0.867)">2.5</div>
<div class="n" style="right:313.40px;top:650px;transform:scaleX(0.867)">1.4</div>
<div class="n" style="right:284.50px;top:650px;transform:scaleX(0.867)">2.1</div>
<div class="n" style="right:255.80px;top:650px;transform:scaleX(0.867)">–6.7</div>
<div class="n" style="right:227.40px;top:650px;transform:scaleX(0.867)">6.6</div>
<div class="n" style="right:198.40px;top:650px;transform:scaleX(0.867)">2.6</div>
<div class="n" style="right:169.60px;top:650px;transform:scaleX(0.867)">0.7</div>
<div class="n" style="right:139.80px;top:650px;transform:scaleX(0.867)">1.4</div>
<div class="n" style="right:104.50px;top:650px;transform:scaleX(0.867)">5.6</div>
<div class="n" style="right:62.70px;top:650px;transform:scaleX(0.867)">0.3</div>
<div class="n" style="right:24.40px;top:650px;transform:scaleX(0.867)">0.9</div>
<div class="l" style="left:29.6px;top:660px;transform:scaleX(0.867)">Italy</div>
<div class="n" style="right:474.00px;top:660px;transform:scaleX(0.867)">–0.7</div>
<div class="n" style="right:429.60px;top:660px;transform:scaleX(0.867)">0.1</div>
<div class="n" style="right:400.70px;top:660px;transform:scaleX(0.867)">1.2</div>
<div class="n" style="right:371.40px;top:660px;transform:scaleX(0.867)">1.8</div>
<div class="n" style="right:342.20px;top:660px;transform:scaleX(0.867)">1.8</div>
<div class="n" style="right:313.40px;top:660px;transform:scaleX(0.867)">1.3</div>
<div class="n" style="right:284.50px;top:660px;transform:scaleX(0.867)">–0.2</div>
<div class="n" style="right:255.80px;top:660px;transform:scaleX(0.867)">–8.5</div>
<div class="n" style="right:227.40px;top:660px;transform:scaleX(0.867)">6.8</div>
<div class="n" style="right:198.40px;top:660px;transform:scaleX(0.867)">3.6</div>
<div class="n" style="right:169.60px;top:660px;transform:scaleX(0.867)">–0.1</div>
<div class="n" style="right:139.80px;top:660px;transform:scaleX(0.867)">0.9</div>
<div class="n" style="right:104.50px;top:660px;transform:scaleX(0.867)">7.7</div>
<div class="n" style="right:62.70px;top:660px;transform:scaleX(0.867)">–0.7</div>
<div class="n" style="right:24.40px;top:660px;transform:scaleX(0.867)">1.4</div>
<div class="l" style="left:29.6px;top:671px;transform:scaleX(0.867)">Spain</div>
<div class="n" style="right:474.00px;top:671px;transform:scaleX(0.867)">0.1</div>
<div class="n" style="right:429.60px;top:671px;transform:scaleX(0.867)">1.9</div>
<div class="n" style="right:400.70px;top:671px;transform:scaleX(0.867)">4.1</div>
<div class="n" style="right:371.40px;top:671px;transform:scaleX(0.867)">2.1</div>
<div class="n" style="right:342.20px;top:671px;transform:scaleX(0.867)">3.3</div>
<div class="n" style="right:313.40px;top:671px;transform:scaleX(0.867)">3.0</div>
<div class="n" style="right:284.50px;top:671px;transform:scaleX(0.867)">1.6</div>
<div class="n" style="right:255.80px;top:671px;transform:scaleX(0.867)">–8.9</div>
<div class="n" style="right:227.40px;top:671px;transform:scaleX(0.867)">4.7</div>
<div class="n" style="right:198.40px;top:671px;transform:scaleX(0.867)">3.0</div>
<div class="n" style="right:169.60px;top:671px;transform:scaleX(0.867)">1.5</div>
<div class="n" style="right:139.80px;top:671px;transform:scaleX(0.867)">1.6</div>
<div class="n" style="right:104.50px;top:671px;transform:scaleX(0.867)">3.8</div>
<div class="n" style="right:62.70px;top:671px;transform:scaleX(0.867)">1.7</div>
<div class="n" style="right:24.40px;top:671px;transform:scaleX(0.867)">2.1</div>
<div class="l" style="left:20.0px;top:681px;transform:scaleX(0.867)">Japan</div>
<div class="n" style="right:474.00px;top:681px;transform:scaleX(0.867)">0.6</div>
<div class="n" style="right:429.60px;top:681px;transform:scaleX(0.867)">0.3</div>
<div class="n" style="right:400.70px;top:681px;transform:scaleX(0.867)">1.1</div>
<div class="n" style="right:371.40px;top:681px;transform:scaleX(0.867)">0.3</div>
<div class="n" style="right:342.20px;top:681px;transform:scaleX(0.867)">1.1</div>
<div class="n" style="right:313.40px;top:681px;transform:scaleX(0.867)">0.6</div>
<div class="n" style="right:284.50px;top:681px;transform:scaleX(0.867)">0.1</div>
<div class="n" style="right:255.80px;top:681px;transform:scaleX(0.867)">–3.8</div>
<div class="n" style="right:227.40px;top:681px;transform:scaleX(0.867)">0.6</div>
<div class="n" style="right:198.40px;top:681px;transform:scaleX(0.867)">1.9</div>
<div class="n" style="right:169.60px;top:681px;transform:scaleX(0.867)">1.3</div>
<div class="n" style="right:139.80px;top:681px;transform:scaleX(0.867)">0.4</div>
<div class="n" style="right:104.50px;top:681px;transform:scaleX(0.867)">0.5</div>
<div class="n" style="right:62.70px;top:681px;transform:scaleX(0.867)">1.9</div>
<div class="n" style="right:24.40px;top:681px;transform:scaleX(0.867)">1.1</div>
<div class="l" style="left:20.0px;top:692px;transform:scaleX(0.867)">United Kingdom</div>
<div class="n" style="right:474.00px;top:692px;transform:scaleX(0.867)">1.2</div>
<div class="n" style="right:429.60px;top:692px;transform:scaleX(0.867)">3.5</div>
<div class="n" style="right:400.70px;top:692px;transform:scaleX(0.867)">3.2</div>
<div class="n" style="right:371.40px;top:692px;transform:scaleX(0.867)">3.1</div>
<div class="n" style="right:342.20px;top:692px;transform:scaleX(0.867)">1.9</div>
<div class="n" style="right:313.40px;top:692px;transform:scaleX(0.867)">1.2</div>
<div class="n" style="right:284.50px;top:692px;transform:scaleX(0.867)">1.6</div>
<div class="n" style="right:255.80px;top:692px;transform:scaleX(0.867)">–10.1</div>
<div class="n" style="right:227.40px;top:692px;transform:scaleX(0.867)">8.5</div>
<div class="n" style="right:198.40px;top:692px;transform:scaleX(0.867)">4.6</div>
<div class="n" style="right:169.60px;top:692px;transform:scaleX(0.867)">0.3</div>
<div class="n" style="right:139.80px;top:692px;transform:scaleX(0.867)">1.5</div>
<div class="n" style="right:104.50px;top:692px;transform:scaleX(0.867)">4.8</div>
<div class="n" style="right:62.70px;top:692px;transform:scaleX(0.867)">–0.6</div>
<div class="n" style="right:24.40px;top:692px;transform:scaleX(0.867)">3.8</div>
<div class="l" style="left:20.0px;top:702px;transform:scaleX(0.867)">Canada</div>
<div class="n" style="right:474.00px;top:702px;transform:scaleX(0.867)">2.9</div>
<div class="n" style="right:429.60px;top:702px;transform:scaleX(0.867)">1.7</div>
<div class="n" style="right:400.70px;top:702px;transform:scaleX(0.867)">–0.2</div>
<div class="n" style="right:371.40px;top:702px;transform:scaleX(0.867)">0.4</div>
<div class="n" style="right:342.20px;top:702px;transform:scaleX(0.867)">4.1</div>
<div class="n" style="right:313.40px;top:702px;transform:scaleX(0.867)">2.5</div>
<div class="n" style="right:284.50px;top:702px;transform:scaleX(0.867)">1.2</div>
<div class="n" style="right:255.80px;top:702px;transform:scaleX(0.867)">–6.4</div>
<div class="n" style="right:227.40px;top:702px;transform:scaleX(0.867)">6.1</div>
<div class="n" style="right:198.40px;top:702px;transform:scaleX(0.867)">5.5</div>
<div class="n" style="right:169.60px;top:702px;transform:scaleX(0.867)">1.8</div>
<div class="n" style="right:139.80px;top:702px;transform:scaleX(0.867)">1.4</div>
<div class="n" style="right:104.50px;top:702px;transform:scaleX(0.867)">4.7</div>
<div class="n" style="right:62.70px;top:702px;transform:scaleX(0.867)">4.9</div>
<div class="n" style="right:24.40px;top:702px;transform:scaleX(0.867)">0.5</div>
<div class="l" style="left:20.0px;top:713px;transform:scaleX(0.867)">Other Advanced Economies<sup>3</sup></div>
<div class="n" style="right:474.00px;top:713px;transform:scaleX(0.867)">3.0</div>
<div class="n" style="right:429.60px;top:713px;transform:scaleX(0.867)">2.8</div>
<div class="n" style="right:400.70px;top:713px;transform:scaleX(0.867)">2.6</div>
<div class="n" style="right:371.40px;top:713px;transform:scaleX(0.867)">2.9</div>
<div class="n" style="right:342.20px;top:713px;transform:scaleX(0.867)">3.6</div>
<div class="n" style="right:313.40px;top:713px;transform:scaleX(0.867)">2.7</div>
<div class="n" style="right:284.50px;top:713px;transform:scaleX(0.867)">1.5</div>
<div class="n" style="right:255.80px;top:713px;transform:scaleX(0.867)">–2.5</div>
<div class="n" style="right:227.40px;top:713px;transform:scaleX(0.867)">5.2</div>
<div class="n" style="right:198.40px;top:713px;transform:scaleX(0.867)">3.2</div>
<div class="n" style="right:169.60px;top:713px;transform:scaleX(0.867)">2.3</div>
<div class="n" style="right:139.80px;top:713px;transform:scaleX(0.867)">2.4</div>
<div class="n" style="right:104.50px;top:713px;transform:scaleX(0.867)">5.6</div>
<div class="n" style="right:62.70px;top:713px;transform:scaleX(0.867)">1.1</div>
<div class="n" style="right:24.40px;top:713px;transform:scaleX(0.867)">3.3</div>
<div class="l i" style="left:20.5px;top:727px;transform:scaleX(0.867)">Memorandum</div>
<div class="l" style="left:20.0px;top:738px;transform:scaleX(0.867)">Major Advanced Economies</div>
<div class="n" style="right:474.00px;top:738px;transform:scaleX(0.867)">1.2</div>
<div class="n" style="right:429.60px;top:738px;transform:scaleX(0.867)">1.9</div>
<div class="n" style="right:400.70px;top:738px;transform:scaleX(0.867)">2.4</div>
<div class="n" style="right:371.40px;top:738px;transform:scaleX(0.867)">1.7</div>
<div class="n" style="right:342.20px;top:738px;transform:scaleX(0.867)">2.2</div>
<div class="n" style="right:313.40px;top:738px;transform:scaleX(0.867)">2.2</div>
<div class="n" style="right:284.50px;top:738px;transform:scaleX(0.867)">1.7</div>
<div class="n" style="right:255.80px;top:738px;transform:scaleX(0.867)">–4.4</div>
<div class="n" style="right:227.40px;top:738px;transform:scaleX(0.867)">5.6</div>
<div class="n" style="right:198.40px;top:738px;transform:scaleX(0.867)">2.7</div>
<div class="n" style="right:169.60px;top:738px;transform:scaleX(0.867)">0.6</div>
<div class="n" style="right:139.80px;top:738px;transform:scaleX(0.867)">1.5</div>
<div class="n" style="right:104.50px;top:738px;transform:scaleX(0.867)">4.9</div>
<div class="n" style="right:62.70px;top:738px;transform:scaleX(0.867)">0.7</div>
<div class="n" style="right:24.40px;top:738px;transform:scaleX(0.867)">1.1</div>
<div class="t" style="left:11.4px;top:753px;font-size:8.8px;color:#231f20;transform:scaleX(0.865);transform-origin:0 0;-webkit-text-stroke:0.1px currentColor"><sup>1</sup>In this and other tables, when countries are not listed alphabetically, they are ordered on the basis of economic size.</div>
<div class="t" style="left:11.4px;top:764px;font-size:8.8px;color:#231f20;transform:scaleX(0.866);transform-origin:0 0;-webkit-text-stroke:0.1px currentColor"><sup>2</sup>From the fourth quarter of the preceding year.</div>
<div class="t" style="left:11.4px;top:775px;font-size:8.8px;color:#231f20;transform:scaleX(0.849);transform-origin:0 0;-webkit-text-stroke:0.1px currentColor"><sup>3</sup>Excludes the Group of Seven (Canada, France, Germany, Italy, Japan, United Kingdom, United States) and euro area countries.</div>
</body></html>
